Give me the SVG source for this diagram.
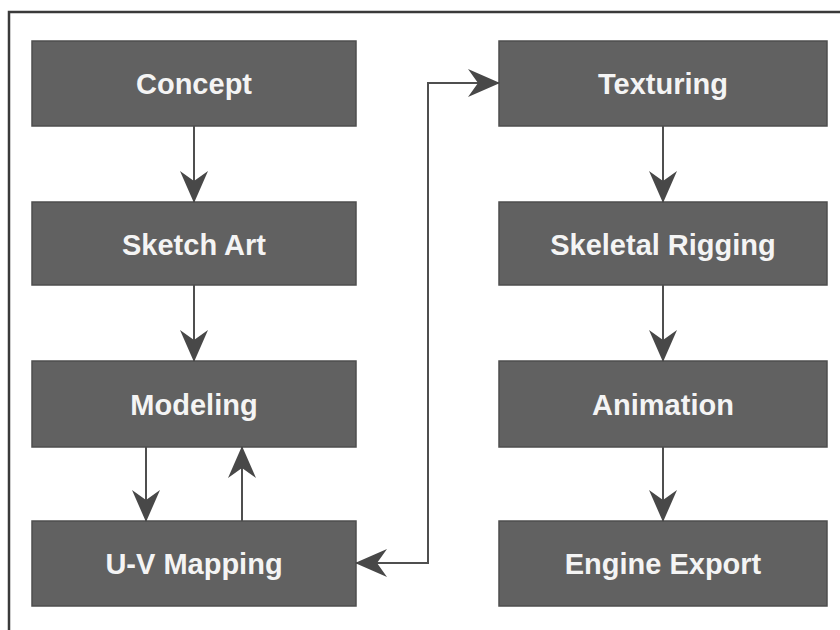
<svg xmlns="http://www.w3.org/2000/svg" width="840" height="630" viewBox="0 0 840 630">
<style>
.box{fill:#616161;stroke:#4e4e4e;stroke-width:1.5}
.lbl{fill:#f4f4f4;font-family:"Liberation Sans",Arial,sans-serif;font-weight:bold;font-size:29px;text-anchor:middle}
.conn{fill:none;stroke:#4f4f4f;stroke-width:2}
</style>
<defs>
<marker id="ah" markerUnits="userSpaceOnUse" markerWidth="32" markerHeight="28" viewBox="0 0 32 28" refX="31" refY="14" orient="auto-start-reverse">
<path d="M0,0 L32,14 L0,28 L10,14 Z" fill="#484848"/>
</marker>
</defs>
<rect width="840" height="630" fill="#ffffff"/>
<path d="M9,630 V12 H840" fill="none" stroke="#3a3a3a" stroke-width="2.5"/>
<g id="concept"><rect class="box" x="32" y="41" width="324" height="85"/><text class="lbl" x="194" y="94">Concept</text></g>
<g id="sketch-art"><rect class="box" x="32" y="202" width="324" height="83"/><text class="lbl" x="194" y="254.5">Sketch Art</text></g>
<g id="modeling"><rect class="box" x="32" y="361" width="324" height="86"/><text class="lbl" x="194" y="414.5">Modeling</text></g>
<g id="uv-mapping"><rect class="box" x="32" y="521" width="324" height="85"/><text class="lbl" x="194" y="574">U-V Mapping</text></g>
<g id="texturing"><rect class="box" x="499" y="41" width="328" height="85"/><text class="lbl" x="663" y="94">Texturing</text></g>
<g id="skeletal-rigging"><rect class="box" x="499" y="202" width="328" height="83"/><text class="lbl" x="663" y="254.5">Skeletal Rigging</text></g>
<g id="animation"><rect class="box" x="499" y="361" width="328" height="86"/><text class="lbl" x="663" y="414.5">Animation</text></g>
<g id="engine-export"><rect class="box" x="499" y="521" width="328" height="85"/><text class="lbl" x="663" y="574">Engine Export</text></g>
<g id="connectors">
<path class="conn" d="M194,126 V202" marker-end="url(#ah)"/>
<path class="conn" d="M194,285 V361" marker-end="url(#ah)"/>
<path class="conn" d="M146,447 V521" marker-end="url(#ah)"/>
<path class="conn" d="M242,521 V447" marker-end="url(#ah)"/>
<path class="conn" d="M356,563 H428 V83 H499" marker-start="url(#ah)" marker-end="url(#ah)"/>
<path class="conn" d="M663,126 V202" marker-end="url(#ah)"/>
<path class="conn" d="M663,285 V361" marker-end="url(#ah)"/>
<path class="conn" d="M663,447 V521" marker-end="url(#ah)"/>
</g>
</svg>
